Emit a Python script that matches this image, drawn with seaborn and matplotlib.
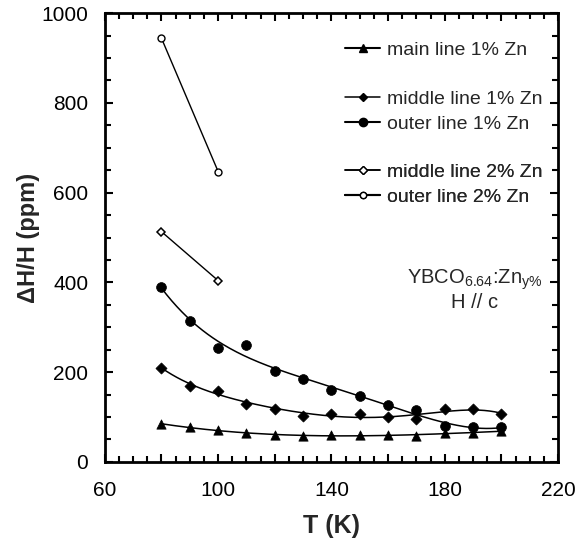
import numpy as np
import pandas as pd
import matplotlib
matplotlib.use('Agg')
import matplotlib.pyplot as plt
from matplotlib.ticker import MultipleLocator, FuncFormatter
from matplotlib.lines import Line2D
import seaborn as sns

# data
temp_1pct = [80, 90, 100, 110, 120, 130, 140, 150, 160, 170, 180, 190, 200]
main_1pct = [85, 77, 70, 64, 60, 57, 61, 61, 59, 57, 64, 65, 69]
middle_1pct = [210, 170, 158, 130, 119, 102, 107, 107, 99, 95, 117, 118, 107]
outer_1pct = [390, 315, 253, 260, 203, 184, 161, 147, 126, 116, 79, 77, 77]

temp_2pct = [80, 100]
middle_2pct = [513, 404]
outer_2pct = [944, 647]

sns.set_style('ticks')
plt.rcParams['font.family'] = ['Liberation Sans', 'DejaVu Sans']
plt.rcParams['mathtext.fontset'] = 'custom'
plt.rcParams['mathtext.rm'] = 'Liberation Sans'
plt.rcParams['mathtext.default'] = 'regular'

fig = plt.figure(figsize=(5.79, 5.46), dpi=100)
ax = fig.add_axes([0.181, 0.154, 0.783, 0.822])

df1 = pd.DataFrame({'T': temp_1pct, 'main': main_1pct,
                    'middle': middle_1pct, 'outer': outer_1pct})
df2 = pd.DataFrame({'T': temp_2pct, 'middle': middle_2pct, 'outer': outer_2pct})

# smooth fits for the 1% series
tt = np.linspace(80, 200, 200)
fits = {'main': 3, 'middle': 5, 'outer': 4}
for col, deg in fits.items():
    p = np.polyfit(df1['T'], df1[col], deg)
    ax.plot(tt, np.polyval(p, tt), color='black', lw=1.1)

sns.scatterplot(data=df1, x='T', y='main', marker='^', s=45, color='black',
                edgecolor='black', linewidth=0.5, ax=ax, zorder=3)
sns.scatterplot(data=df1, x='T', y='middle', marker='D', s=32, color='black',
                edgecolor='black', linewidth=0.5, ax=ax, zorder=3)
sns.scatterplot(data=df1, x='T', y='outer', marker='o', s=50, color='black',
                edgecolor='black', linewidth=0.5, ax=ax, zorder=3)

sns.lineplot(data=df2, x='T', y='middle', color='black', lw=1.0, marker='D',
             markersize=4.5, markerfacecolor='white', markeredgecolor='black',
             markeredgewidth=1.1, ax=ax)
sns.lineplot(data=df2, x='T', y='outer', color='black', lw=1.0, marker='o',
             markersize=5, markerfacecolor='white', markeredgecolor='black',
             markeredgewidth=1.0, ax=ax)

ax.set_xlim(60, 220)
ax.set_ylim(0, 1000)
ax.xaxis.set_major_locator(MultipleLocator(20))
ax.xaxis.set_minor_locator(MultipleLocator(5))
ax.xaxis.set_major_formatter(FuncFormatter(lambda v, pos: f'{v:.0f}' if int(round(v)) % 40 == 20 else ''))
ax.yaxis.set_major_locator(MultipleLocator(200))
ax.yaxis.set_minor_locator(MultipleLocator(50))
ax.tick_params(which='both', direction='in', top=True, right=True, width=1.5,
               labelsize=15, colors='black')
ax.tick_params(which='major', length=6)
ax.tick_params(which='minor', length=4)
ax.tick_params(axis='x', pad=14)
ax.tick_params(axis='y', pad=12)
for sp in ax.spines.values():
    sp.set_linewidth(2)
    sp.set_color('black')

ax.set_xlabel('T (K)', fontsize=18, fontweight='bold', labelpad=10)
ax.set_ylabel('ΔH/H (ppm)', fontsize=17, fontweight='bold', labelpad=1)

# legend in three groups, like the reference
def handle(marker, size, face, lw):
    return Line2D([], [], color='black', lw=lw, marker=marker, markersize=size,
                  markerfacecolor=face, markeredgecolor='black')

groups = [
    ([handle('^', 6, 'black', 1.5)], ['main line 1% Zn'], 0.918),
    ([handle('D', 4.5, 'black', 1.1), handle('o', 6, 'black', 1.5)],
     ['middle line 1% Zn', 'outer line 1% Zn'], 0.781),
    ([handle('D', 4.5, 'white', 1.1), handle('o', 4.5, 'white', 1.5)],
     ['middle line 2% Zn', 'outer line 2% Zn'], 0.618),
]
for hs, labels, yy in groups:
    leg = ax.legend(hs, labels, loc='center left', bbox_to_anchor=(0.53, yy),
                    frameon=False, fontsize=14, handlelength=1.8,
                    handletextpad=0.35, labelspacing=0.4, borderpad=0,
                    borderaxespad=0)
    ax.add_artist(leg)

ax.text(0.815, 0.405, 'YBCO$_{6.64}$:Zn$_{y\\%}$', transform=ax.transAxes,
        ha='center', va='center', fontsize=14.5)
ax.text(0.815, 0.355, 'H // c', transform=ax.transAxes,
        ha='center', va='center', fontsize=14.5)

fig.savefig('out.png', dpi=100)
